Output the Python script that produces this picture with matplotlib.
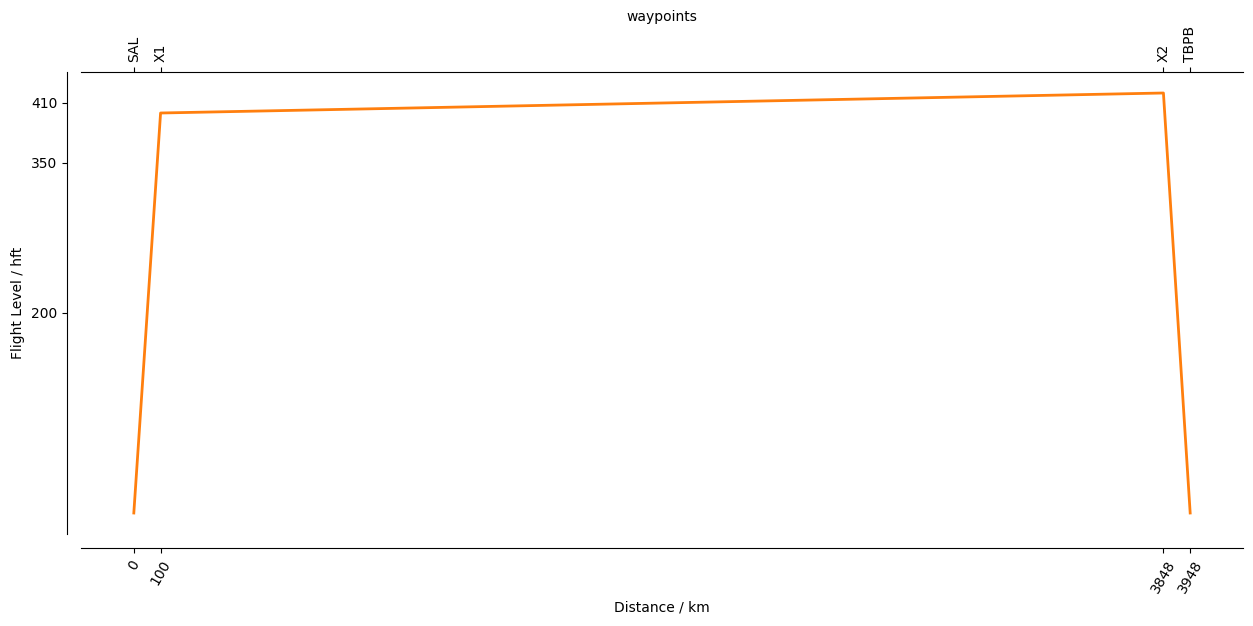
import numpy as np
import matplotlib.pyplot as plt

# flight profile data
dist_km = [0, 100, 3848, 3948]
flight_level = [0, 400, 420, 0]
waypoints = ["SAL", "X1", "X2", "TBPB"]
fl_ticks = [200, 350, 410]

fig = plt.figure(figsize=(12.53, 6.26), dpi=100)
ax = fig.add_axes([81 / 1253, 1 - 534 / 626, (1243 - 81) / 1253, (534 - 72) / 626])

ax.plot(dist_km, flight_level, color="#ff7f0e", linewidth=2)

ax.set_xticks(dist_km)
ax.set_xticklabels([str(d) for d in dist_km])
ax.set_yticks(fl_ticks)
ax.set_xlabel("Distance / km")
ax.set_ylabel("Flight Level / hft")

for side in ["top", "right"]:
    ax.spines[side].set_visible(False)
ax.spines["left"].set_position(("outward", 10))
ax.spines["bottom"].set_position(("outward", 10))

# waypoint axis on top
ax2 = ax.twiny()
ax2.set_xlim(ax.get_xlim())
ax2.set_xticks(dist_km)
ax2.set_xticklabels(waypoints)
ax2.set_xlabel("waypoints")
for side in ["left", "right", "bottom"]:
    ax2.spines[side].set_visible(False)

ax.tick_params(axis="x", labelrotation=60)
ax2.tick_params(axis="x", labelrotation=90)

fig.savefig("out.png", dpi=100)
